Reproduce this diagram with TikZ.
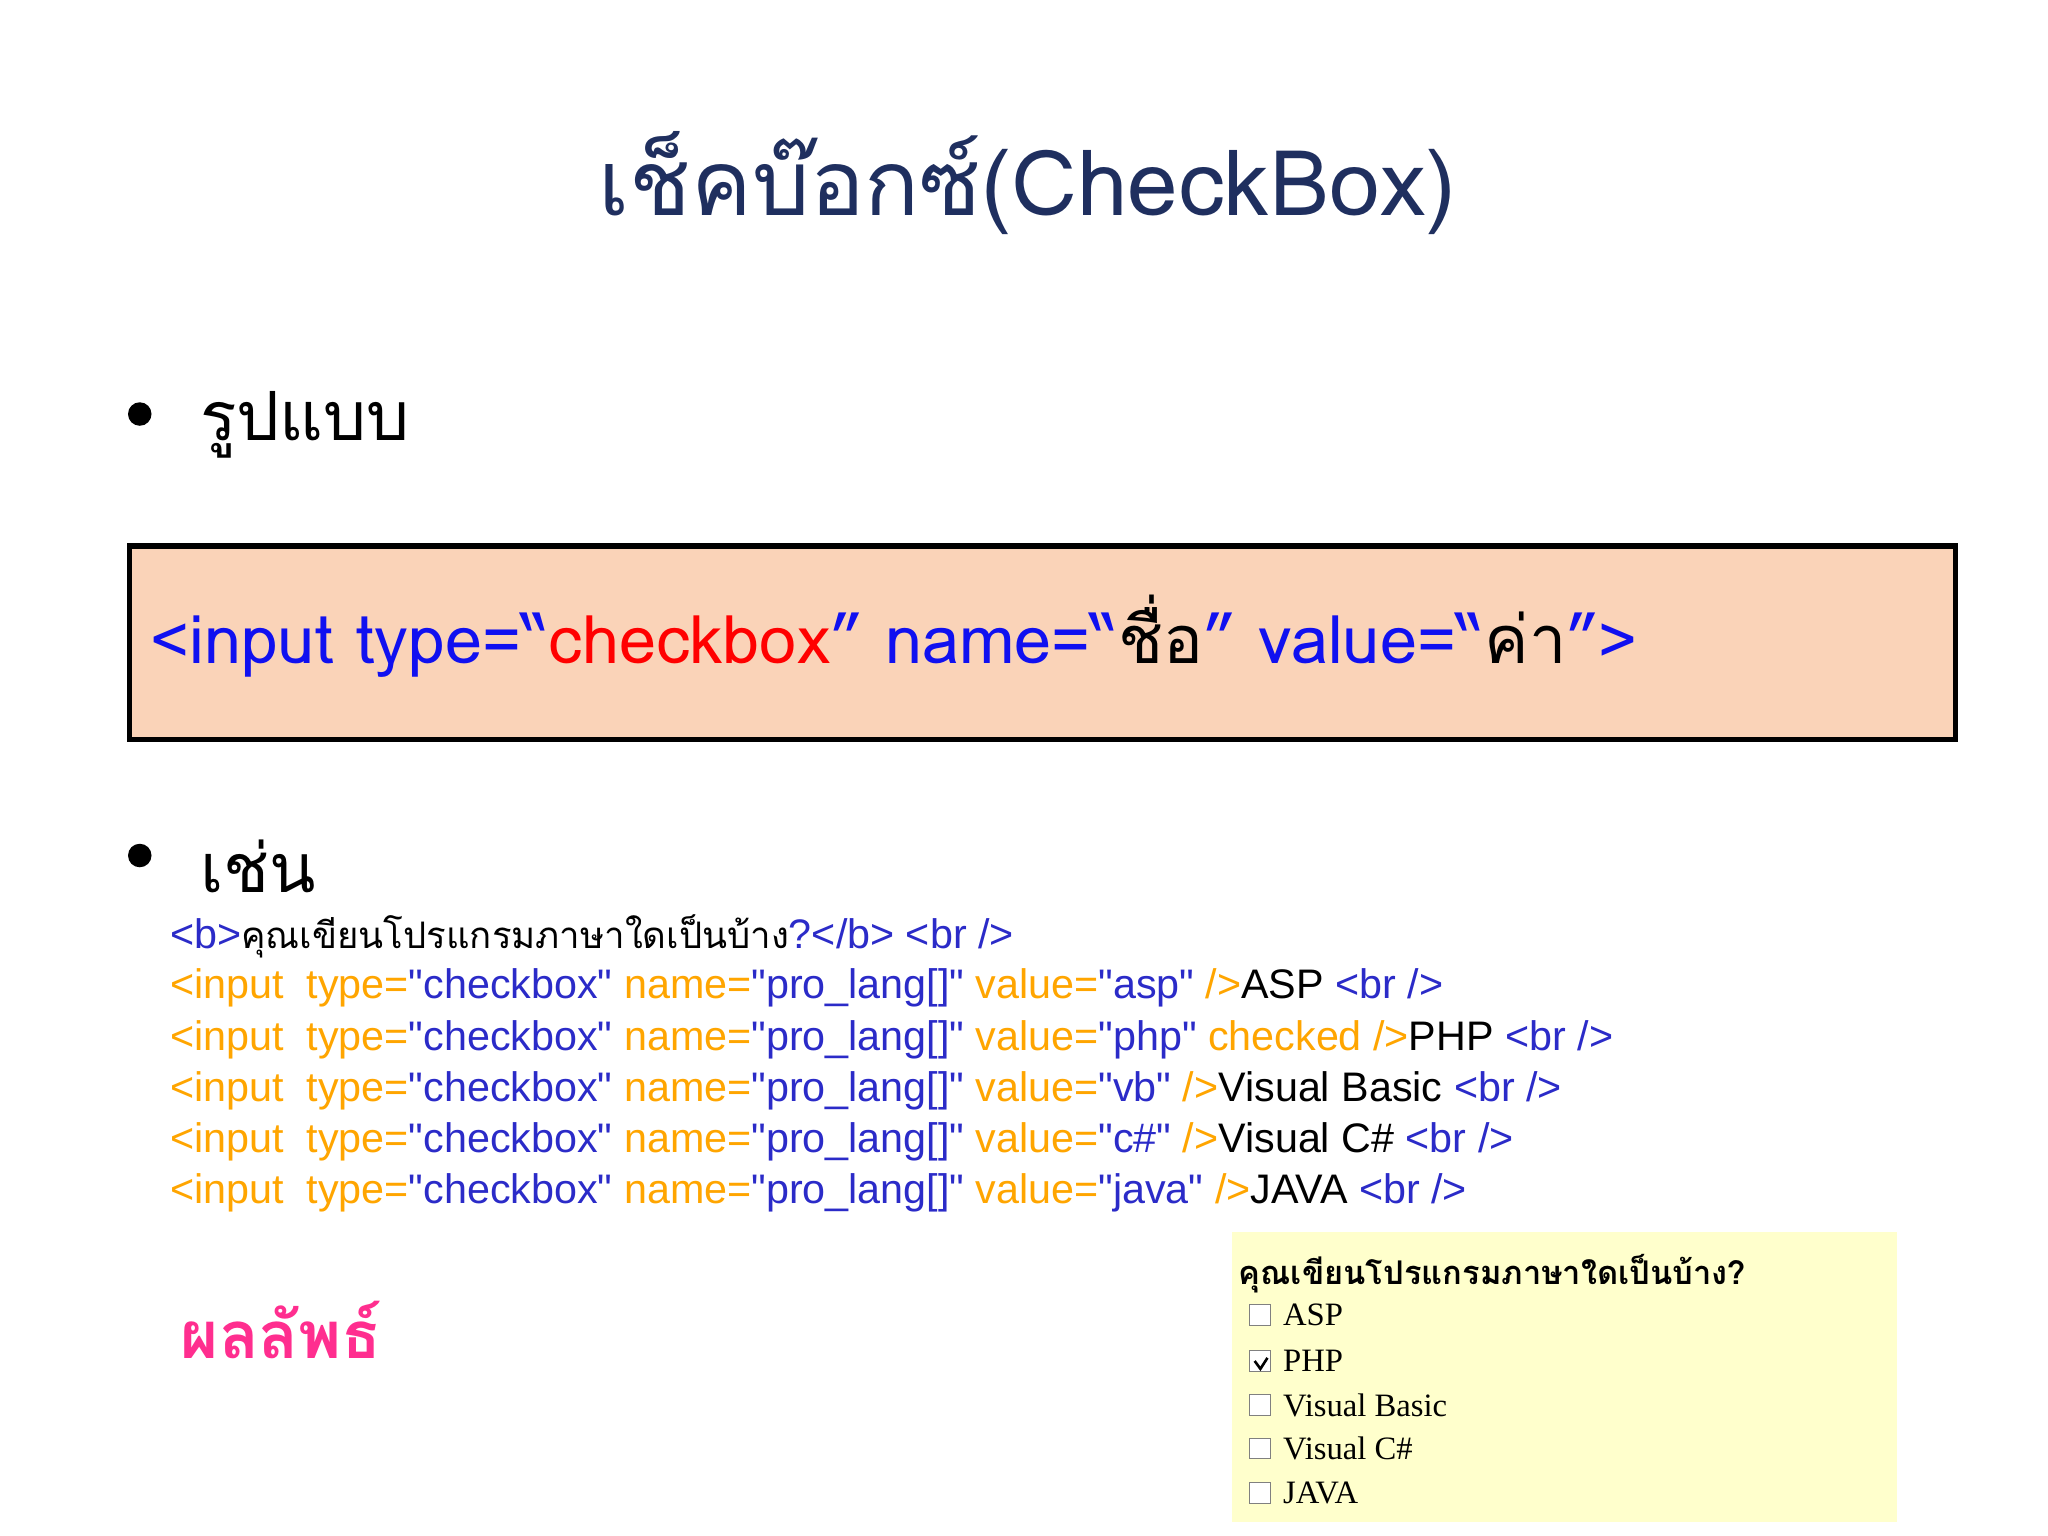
\documentclass[tikz,border=0pt]{standalone}
\usepackage{fontspec}
\setmainfont{Liberation Sans}
\newfontfamily\thai[Script=Thai]{Loma}
\newfontfamily\code{Liberation Sans}
\newfontfamily\serifth[Script=Thai]{Loma}
\newfontfamily\sers{Liberation Serif}
\definecolor{titlec}{HTML}{1F2F5F}
\definecolor{kw}{HTML}{1010F0}
\definecolor{org}{HTML}{FFA500}
\definecolor{cb}{HTML}{2B2BC8}
\definecolor{peach}{HTML}{FAD3B8}
\definecolor{pale}{HTML}{FFFFCC}
\definecolor{mag}{HTML}{FF2E8F}
\tikzset{lbl/.style={anchor=west,inner sep=0pt},
 cl/.style={lbl,font=\code\fontsize{15.8}{18}\selectfont},
 opt/.style={lbl,font=\sers\fontsize{12.5}{14}\selectfont},
 cbx/.style={draw=gray,fill=white,minimum size=8pt,inner sep=0pt}}
\newcommand{\Or}[1]{\textcolor{org}{#1}}
\newcommand{\Bl}[1]{\textcolor{cb}{#1}}
\begin{document}
\begin{tikzpicture}[x=0.5pt,y=-0.5pt]
\useasboundingbox (0,0) rectangle (1568,1176);
\node[lbl,text=titlec,font=\thai\fontsize{34.8}{40}\selectfont] (title) at (458,140) {เช็คบ๊อกซ์(CheckBox)};
\fill (107,317) circle (9) coordinate (b1);
\node[lbl,font=\thai\fontsize{26}{30}\selectfont] (fmt) at (153,325) {รูปแบบ};
\node[draw=black,line width=2pt,fill=peach,minimum width=1398*0.5pt,minimum height=148*0.5pt,anchor=north west,inner sep=0pt] (box) at (97,416) {};
\node[lbl,font=\thai\fontsize{25.5}{28}\selectfont] (syn) at (115,487) {\textcolor{kw}{<input type=“}\textcolor{red}{checkbox}\textcolor{kw}{” name=“}ชื่อ\textcolor{kw}{” value=“}ค่า\textcolor{kw}{”>}};
\fill (107,655) circle (9) coordinate (b2);
\node[lbl,font=\thai\fontsize{26}{30}\selectfont] (eg) at (153,663) {เช่น};
\node[cl] (l0) at (130,717) {\Bl{<b>}{\thai\fontsize{14}{16}\selectfont คุณเขียนโปรแกรมภาษาใดเป็นบ้าง}\Bl{?</b> <br />}};
\node[cl] (l1) at (130,756) {\Or{<input\ \ type=}\Bl{"checkbox"} \Or{name=}\Bl{"pro\_lang[]"} \Or{value=}\Bl{"asp"} \Or{/>}ASP \Bl{<br />}};
\node[cl] (l2) at (130,796) {\Or{<input\ \ type=}\Bl{"checkbox"} \Or{name=}\Bl{"pro\_lang[]"} \Or{value=}\Bl{"php"} \Or{checked />}PHP \Bl{<br />}};
\node[cl] (l3) at (130,835) {\Or{<input\ \ type=}\Bl{"checkbox"} \Or{name=}\Bl{"pro\_lang[]"} \Or{value=}\Bl{"vb"} \Or{/>}Visual Basic \Bl{<br />}};
\node[cl] (l4) at (130,874) {\Or{<input\ \ type=}\Bl{"checkbox"} \Or{name=}\Bl{"pro\_lang[]"} \Or{value=}\Bl{"c\#"} \Or{/>}Visual C\# \Bl{<br />}};
\node[cl] (l5) at (130,913) {\Or{<input\ \ type=}\Bl{"checkbox"} \Or{name=}\Bl{"pro\_lang[]"} \Or{value=}\Bl{"java"} \Or{/>}JAVA \Bl{<br />}};
\node[lbl,text=mag,font=\thai\bfseries\fontsize{25}{30}\selectfont] (res) at (138,1018) {ผลลัพธ์};
\fill[pale] (943,943) rectangle (1452,1165);
\node[lbl,font=\serifth\bfseries\fontsize{12.5}{14}\selectfont] (q) at (948,975) {คุณเขียนโปรแกรมภาษาใดเป็นบ้าง?};
\foreach \y/\t [count=\i] in {1007/ASP,1042/PHP,1076/Visual Basic,1109/Visual C\#,1143/JAVA}{
 \node[cbx] (c\i) at (965,\y) {};
 \node[opt] (o\i) at (982,\y) {\t};
}
\draw[line width=1pt] ([shift={(2pt,0pt)}]c2.west) -- ([shift={(0,-3pt)}]c2.center) -- ([shift={(-1.5pt,-3pt)}]c2.north east);
\end{tikzpicture}
\end{document}
